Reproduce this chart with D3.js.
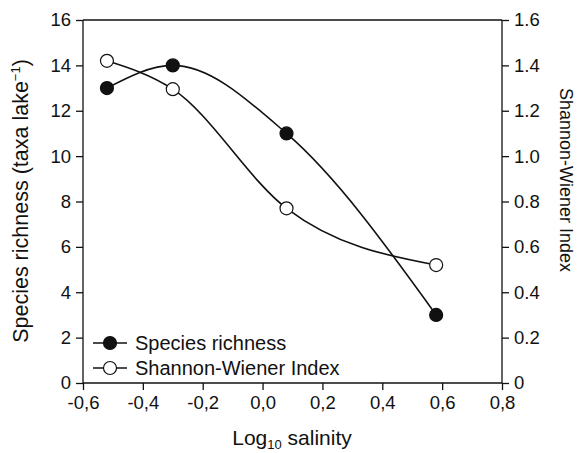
<!DOCTYPE html>
<html>
<head>
<meta charset="utf-8">
<script src="https://cdn.jsdelivr.net/npm/d3@7"></script>
<style>
  body { margin: 0; background: #fff; }
  text { font-family: "Liberation Sans", Arial, Helvetica, sans-serif; fill: #111; }
</style>
</head>
<body>
<svg id="chart" width="584" height="453"></svg>
<script>
const salinity = [-0.52, -0.30, 0.08, 0.58];
const speciesRichness = [13, 14, 11, 3];
const shannonWiener = [1.42, 1.295, 0.77, 0.52];
const xTicks = [-0.6, -0.4, -0.2, 0.0, 0.2, 0.4, 0.6, 0.8];
const yLeftTicks = [0, 2, 4, 6, 8, 10, 12, 14, 16];
const yRightTicks = [0, 0.2, 0.4, 0.6, 0.8, 1.0, 1.2, 1.4, 1.6];
const legendLabels = ["Species richness", "Shannon-Wiener Index"];

(function () {
const svg = d3.select("#chart");
const pL = 83, pR = 502, pT = 20, pB = 383;

const x = d3.scaleLinear().domain([-0.6, 0.8]).range([pL, pR]);
const yL = d3.scaleLinear().domain([0, 16]).range([pB, pT]);
const yR = d3.scaleLinear().domain([0, 1.6]).range([pB, pT]);

const ink = "#111";
const tickFont = 18.5;

svg.append("line").attr("x1", pL).attr("x2", pR).attr("y1", pT).attr("y2", pT)
  .attr("stroke", ink).attr("stroke-width", 1.3);

const fmtX = d => d3.format(".1f")(d).replace(".", ",").replace("−", "-");
const xAxis = svg.append("g").attr("transform", `translate(0,${pB})`)
  .call(d3.axisBottom(x).tickValues(xTicks).tickSize(7).tickPadding(6).tickFormat(fmtX));
const yAxisL = svg.append("g").attr("transform", `translate(${pL},0)`)
  .call(d3.axisLeft(yL).tickValues(yLeftTicks).tickSize(7).tickPadding(5).tickFormat(d3.format("d")));
const yAxisR = svg.append("g").attr("transform", `translate(${pR},0)`)
  .call(d3.axisRight(yR).tickValues(yRightTicks).tickSize(7).tickPadding(5)
    .tickFormat(d => d === 0 ? "0" : d3.format(".1f")(d)));

[xAxis, yAxisL, yAxisR].forEach(g => {
  g.selectAll("path.domain").attr("stroke", ink).attr("stroke-width", 1.3);
  g.selectAll(".tick line").attr("stroke", ink).attr("stroke-width", 1.3);
  g.selectAll(".tick text").attr("font-size", tickFont)
    .attr("font-family", '"Liberation Sans", Arial, sans-serif').attr("fill", ink);
});
yAxisL.select("path.domain").attr("d", `M0,${pB}V${pT}`);
yAxisR.select("path.domain").attr("d", `M0,${pB}V${pT}`);
xAxis.select("path.domain").attr("d", `M${pL},0H${pR}`);

const lineSR = d3.line().x((d, i) => x(salinity[i])).y(d => yL(d)).curve(d3.curveMonotoneX);
const lineSW = d3.line().x((d, i) => x(salinity[i])).y(d => yR(d)).curve(d3.curveMonotoneX);

svg.append("path").datum(speciesRichness).attr("d", lineSR)
  .attr("fill", "none").attr("stroke", ink).attr("stroke-width", 1.6);
svg.append("path").datum(shannonWiener).attr("d", lineSW)
  .attr("fill", "none").attr("stroke", ink).attr("stroke-width", 1.6);

const r = 6.5;
svg.selectAll("circle.sr").data(speciesRichness).enter().append("circle")
  .attr("class", "sr").attr("cx", (d, i) => x(salinity[i])).attr("cy", d => yL(d))
  .attr("r", r).attr("fill", ink).attr("stroke", ink).attr("stroke-width", 1.2);
svg.selectAll("circle.sw").data(shannonWiener).enter().append("circle")
  .attr("class", "sw").attr("cx", (d, i) => x(salinity[i])).attr("cy", d => yR(d))
  .attr("r", r).attr("fill", "#fff").attr("stroke", ink).attr("stroke-width", 1.2);

const lg = svg.append("g");
legendLabels.forEach((lab, i) => {
  const ly = 343 + i * 25;
  lg.append("line").attr("x1", 93).attr("x2", 127).attr("y1", ly).attr("y2", ly)
    .attr("stroke", ink).attr("stroke-width", 1.6);
  lg.append("circle").attr("cx", 110).attr("cy", ly).attr("r", r)
    .attr("fill", i === 0 ? ink : "#fff").attr("stroke", ink).attr("stroke-width", 1.2);
  lg.append("text").attr("x", 135).attr("y", ly + 7).attr("font-size", 20).text(lab);
});

const xt = svg.append("text").attr("x", 292).attr("y", 445).attr("text-anchor", "middle").attr("font-size", 21);
xt.append("tspan").text("Log");
xt.append("tspan").attr("font-size", 13).attr("dy", 4).text("10");
xt.append("tspan").attr("dy", -4).text(" salinity");

const yt = svg.append("text").attr("transform", "translate(28,201) rotate(-90)")
  .attr("text-anchor", "middle").attr("font-size", 21.5);
yt.append("tspan").text("Species richness (taxa lake");
yt.append("tspan").attr("font-size", 13).attr("dy", -8).text("−1");
yt.append("tspan").attr("dy", 8).text(")");

svg.append("text").attr("transform", "translate(560,180) rotate(90)")
  .attr("text-anchor", "middle").attr("font-size", 18).text("Shannon-Wiener Index");
})();
</script>
</body>
</html>
